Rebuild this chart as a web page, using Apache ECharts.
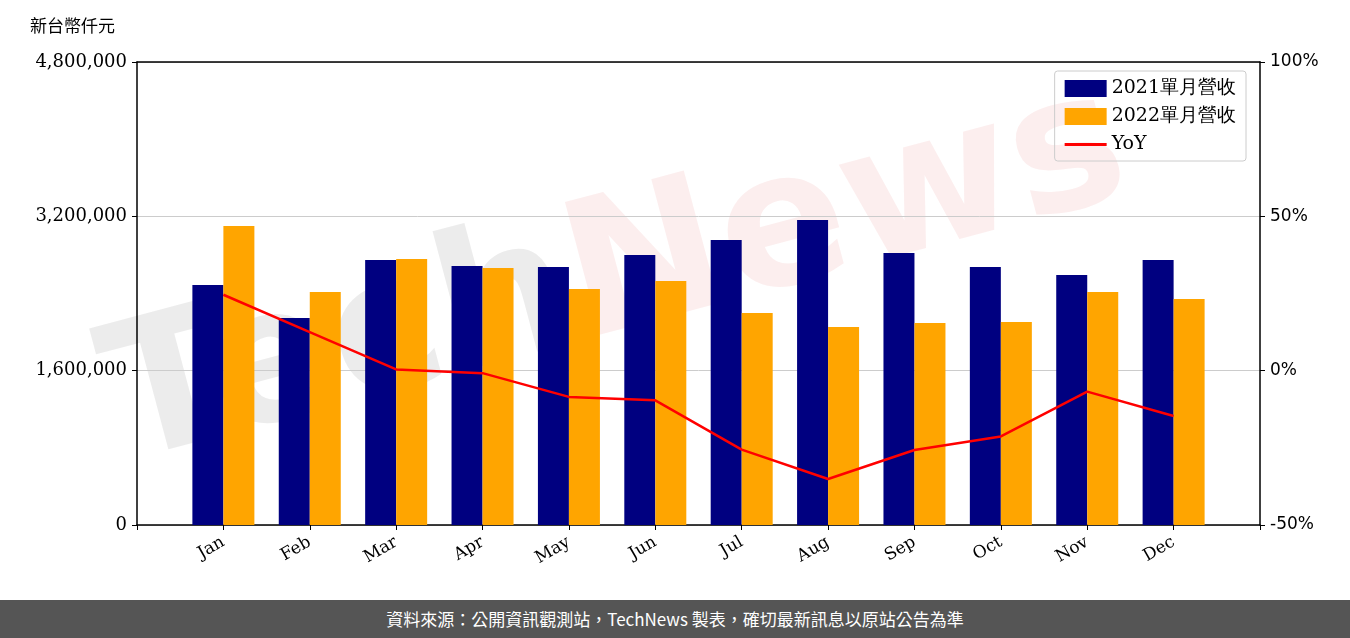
<!DOCTYPE html>
<html>
<head>
<meta charset="utf-8" />
<script src="https://cdn.jsdelivr.net/npm/echarts@6/dist/echarts.min.js"></script>
<style>
body{margin:0;background:#fff;}
#main{width:1350px;height:638px;}
#foot{position:absolute;left:0;top:600px;width:1350px;height:38px;background:#555;color:#fff;
 font:17px "Noto Sans CJK TC",sans-serif;text-align:center;line-height:38px;}
</style>
</head>
<body>
<div id="main"></div>
<div id="foot">資料來源：公開資訊觀測站，TechNews 製表，確切最新訊息以原站公告為準</div>
<script>
var months = ['Jan','Feb','Mar','Apr','May','Jun','Jul','Aug','Sep','Oct','Nov','Dec'];
var rev2021 = [2488000,2146000,2747000,2685000,2675000,2799000,2955000,3162000,2820000,2675000,2592000,2747000];
var rev2022 = [3100000,2415000,2758000,2664000,2447000,2530000,2198000,2053000,2094000,2105000,2415000,2343000];
var yoy = [24.6,12.5,0.4,-0.8,-8.5,-9.6,-25.6,-35.1,-25.7,-21.3,-6.8,-14.7];

var serif = 'DejaVu Serif';
function pairs(arr){ return arr.map(function(v,i){ return [i, v]; }); }

var chart = echarts.init(document.getElementById('main'));
chart.setOption({
  animation:false,
  graphic:[{
    type:'text', x:135, y:505, rotation:0.26, z:0, silent:true,
    style:{text:'{a|Tech}{b|News}', verticalAlign:'bottom',
      rich:{a:{font:'bold 188px "DejaVu Sans"', fill:'rgba(185,185,185,0.28)'},
            b:{font:'bold 188px "DejaVu Sans"', fill:'rgba(240,170,170,0.2)'}}}
  },{
    type:'text', left:30, top:17,
    style:{text:'新台幣仟元', font:'17px "Noto Sans CJK TC"', fill:'#000'}
  }],
  legend:{
    right:104, top:71, orient:'vertical', itemGap:9, itemWidth:42, itemHeight:17,
    borderColor:'#ccc', borderWidth:1, borderRadius:3, padding:[8,10,7,10],
    textStyle:{fontFamily:serif, fontSize:19, color:'#000'},
    data:[{name:'2021單月營收',icon:'rect'},{name:'2022單月營收',icon:'rect'},
          {name:'YoY',icon:'path://M0,0 L40,0 L40,3 L0,3 Z', itemStyle:{color:'#ff0000'}}]
  },
  grid:{left:137, right:90, top:62, bottom:113},
  xAxis:[{
    type:'value', min:-1, max:12, interval:1,
    axisLine:{onZero:false, lineStyle:{color:'#000',width:1.5}},
    axisTick:{show:true, lineStyle:{color:'#000'}},
    splitLine:{show:false},
    axisLabel:{rotate:30, fontFamily:serif, fontSize:17, color:'#000', margin:16,
      formatter:function(v){ return months[v] || ''; }}
  },{
    type:'value', min:-1, max:12, position:'top',
    axisLine:{show:true, onZero:false, lineStyle:{color:'#000',width:1.5}},
    axisTick:{show:false}, axisLabel:{show:false}, splitLine:{show:false}
  }],
  yAxis:[{
    type:'value', min:0, max:4800000, interval:1600000,
    axisLine:{show:true, onZero:false, lineStyle:{color:'#000',width:1.5}},
    axisTick:{show:true, lineStyle:{color:'#000'}},
    splitLine:{lineStyle:{color:'#ccc'}},
    axisLabel:{fontFamily:serif, fontSize:18, color:'#000', margin:10,
      formatter:function(v){return v.toLocaleString('en-US');}}
  },{
    type:'value', min:-50, max:100, interval:50, position:'right',
    axisLine:{show:true, onZero:false, lineStyle:{color:'#000',width:1.5}},
    axisTick:{show:true, lineStyle:{color:'#000'}},
    splitLine:{show:false},
    axisLabel:{fontFamily:'DejaVu Sans', fontSize:17, color:'#000', margin:10, formatter:'{value}%'}
  }],
  series:[
    {name:'2021單月營收', type:'bar', data:pairs(rev2021), barWidth:31, barGap:'0%', itemStyle:{color:'#000080'}, z:3},
    {name:'2022單月營收', type:'bar', data:pairs(rev2022), barWidth:31, itemStyle:{color:'#FFA500'}, z:3},
    {name:'YoY', type:'line', yAxisIndex:1, data:pairs(yoy), symbol:'none', itemStyle:{color:'#ff0000'},
     lineStyle:{color:'#ff0000', width:2.5}, z:4}
  ]
});
</script>
</body>
</html>
